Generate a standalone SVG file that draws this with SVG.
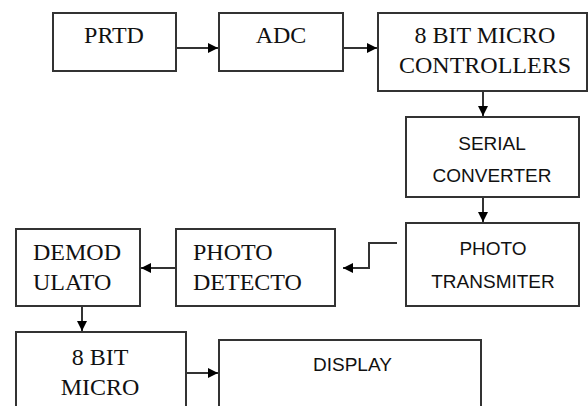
<svg xmlns="http://www.w3.org/2000/svg" width="588" height="406" viewBox="0 0 588 406">
<style>
.box{fill:#fff;stroke:#333;stroke-width:2}
.serif{font-family:"Liberation Serif","Times New Roman",serif;font-size:24px;fill:#111}
.sans{font-family:"Liberation Sans",Arial,sans-serif;font-size:19px;fill:#111}
.c{text-anchor:middle}
.ln{fill:none;stroke:#333;stroke-width:2}
</style>
<defs>
<marker id="ah" viewBox="0 0 10 10" refX="10" refY="5" markerWidth="10" markerHeight="10" markerUnits="userSpaceOnUse" orient="auto">
<path d="M0,0 L10,5 L0,10 z" fill="#000"/>
</marker>
</defs>
<g id="connectors">
<line class="ln" x1="176" y1="48" x2="218" y2="48" marker-end="url(#ah)"/>
<line class="ln" x1="343" y1="48" x2="377" y2="48" marker-end="url(#ah)"/>
<line class="ln" x1="483" y1="91" x2="483" y2="116" marker-end="url(#ah)"/>
<line class="ln" x1="483" y1="197" x2="483" y2="222" marker-end="url(#ah)"/>
<polyline class="ln" points="397,243 369,243 369,268 343,268" marker-end="url(#ah)"/>
<line class="ln" x1="176" y1="268" x2="141" y2="268" marker-end="url(#ah)"/>
<line class="ln" x1="82" y1="306" x2="82" y2="331" marker-end="url(#ah)"/>
<line class="ln" x1="186" y1="373" x2="218" y2="373" marker-end="url(#ah)"/>
</g>
<g id="prtd">
<rect class="box" x="53" y="13" width="123" height="58"/>
<text class="serif c" x="114" y="43">PRTD</text>
</g>
<g id="adc">
<rect class="box" x="219" y="13" width="124" height="58"/>
<text class="serif c" x="281" y="43">ADC</text>
</g>
<g id="mcu1">
<rect class="box" x="378" y="13" width="209" height="78"/>
<text class="serif c" x="485" y="43">8 BIT MICRO</text>
<text class="serif c" x="485" y="73">CONTROLLERS</text>
</g>
<g id="serial">
<rect class="box" x="406" y="117" width="173" height="80"/>
<text class="sans c" x="492" y="150">SERIAL</text>
<text class="sans c" x="492" y="182">CONVERTER</text>
</g>
<g id="phototx">
<rect class="box" x="406" y="223" width="173" height="83"/>
<text class="sans c" x="493" y="255">PHOTO</text>
<text class="sans c" x="493" y="288">TRANSMITER</text>
</g>
<g id="photodet">
<rect class="box" x="176" y="229" width="159" height="77"/>
<text class="serif" x="193" y="260">PHOTO</text>
<text class="serif" x="193" y="290">DETECTO</text>
</g>
<g id="demod">
<rect class="box" x="16" y="229" width="124" height="77"/>
<text class="serif" x="33" y="260">DEMOD</text>
<text class="serif" x="33" y="290">ULATO</text>
</g>
<g id="mcu2">
<rect class="box" x="16" y="332" width="170" height="90"/>
<text class="serif c" x="100" y="365">8 BIT</text>
<text class="serif c" x="100" y="395">MICRO</text>
</g>
<g id="display">
<rect class="box" x="219" y="340" width="262" height="90"/>
<text class="sans" x="313" y="371">DISPLAY</text>
</g>
</svg>
